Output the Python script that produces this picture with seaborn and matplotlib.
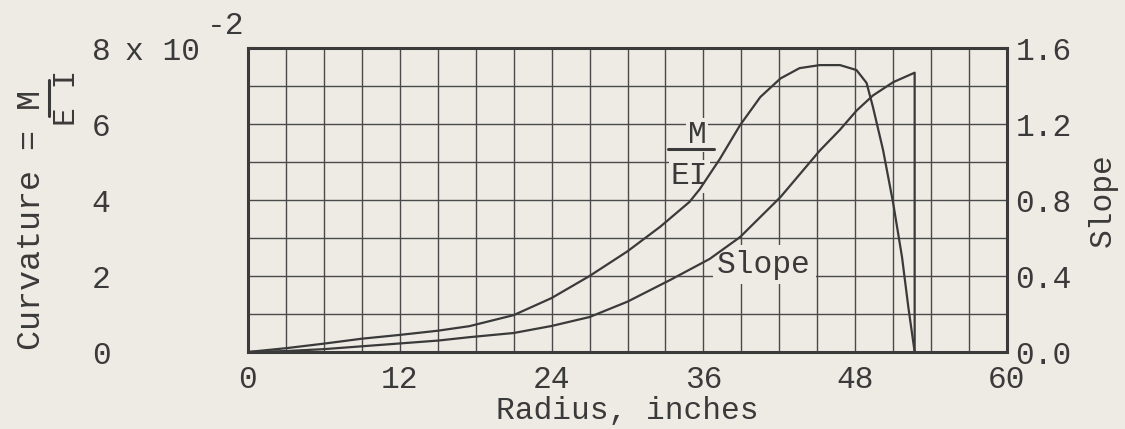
import pandas as pd
import matplotlib.pyplot as plt
import seaborn as sns
from matplotlib.lines import Line2D

# radius (inches) and curvature M/EI (x 10^-2)
radius_mei = [0, 3, 6, 9, 12, 15, 17.5, 21, 24, 27, 30, 32.6, 34.9, 35.7, 37.3, 38.9,
              40.5, 42.1, 43.6, 45.2, 46.8, 48.1, 48.9, 49.4, 50.2, 51.0, 51.7, 52.2, 52.7]
curvature = [0.0, 0.1, 0.22, 0.35, 0.45, 0.56, 0.68, 0.97, 1.42, 2.0, 2.65, 3.3, 3.95,
             4.28, 5.08, 5.97, 6.71, 7.2, 7.47, 7.55, 7.55, 7.42, 7.08, 6.45, 5.32,
             3.92, 2.5, 1.18, 0.0]

# radius (inches) and slope
radius_slope = [0, 3, 6, 9, 12, 15, 17.5, 21, 24, 27, 30, 33.4, 36.5, 38.9, 42.1, 45.2,
                46.8, 48.1, 49.4, 51.0, 52.7, 52.7]
slope = [0.0, 0.005, 0.015, 0.03, 0.045, 0.06, 0.078, 0.10, 0.137, 0.184, 0.265, 0.38,
         0.49, 0.605, 0.816, 1.06, 1.17, 1.27, 1.35, 1.42, 1.47, 0.0]

x_ticks = [0, 12, 24, 36, 48, 60]
left_ticks = [0, 2, 4, 6, 8]
right_ticks = [0.0, 0.4, 0.8, 1.2, 1.6]

paper = '#eeebe5'
ink = '#3a3a3a'
fs = 22.5

sns.set_theme(style='white')
plt.rcParams['font.family'] = ['Liberation Mono', 'DejaVu Sans Mono']
plt.rcParams['text.color'] = ink

df_mei = pd.DataFrame({'r': radius_mei, 'v': curvature})
df_slope = pd.DataFrame({'r': radius_slope, 's': slope})

W, H = 1125, 429
fig = plt.figure(figsize=(W / 100, H / 100), dpi=100, facecolor=paper)
ax = fig.add_axes([248 / W, 1 - 352 / H, (1007 - 248) / W, (352 - 48) / H])
ax.set_facecolor(paper)

sns.lineplot(data=df_mei, x='r', y='v', ax=ax, color=ink, lw=1.6,
             estimator=None, sort=False, zorder=4)

ax.set_xlim(0, 60)
ax.set_ylim(0, 8)
ax.set_xticks(x_ticks)
ax.set_xticks(range(0, 61, 3), minor=True)
ax.set_yticks(left_ticks)
ax.set_yticks(range(0, 9), minor=True)
ax.grid(True, which='both', color='#4a4a4a', lw=1.0)
ax.set_axisbelow(True)
ax.tick_params(which='both', length=0, labelsize=fs, colors=ink)
ax.tick_params(axis='y', pad=99)
ax.tick_params(axis='x', pad=9)
for s in ax.spines.values():
    s.set_color(ink)
    s.set_linewidth(2.2)
ax.set_xlabel('Radius, inches', fontsize=fs, color=ink, labelpad=1)
ax.set_ylabel('')

ax2 = ax.twinx()
sns.lineplot(data=df_slope, x='r', y='s', ax=ax2, color=ink, lw=1.6,
             estimator=None, sort=False, zorder=4)
ax2.set_ylim(0, 1.6)
ax2.set_yticks(right_ticks)
ax2.set_yticklabels([f'{t:.1f}' for t in right_ticks])
ax2.tick_params(length=0, labelsize=fs, colors=ink, pad=6)
ax2.set_ylabel('')
for s in ax2.spines.values():
    s.set_visible(False)

# curve labels (typed fraction M over EI)
box = dict(boxstyle='square,pad=0.05', fc=paper, ec='none')
ax.text(35.5, 5.71, 'M', fontsize=fs, ha='center', va='center', zorder=3, bbox=box)
ax.text(34.9, 4.62, 'EI', fontsize=fs, ha='center', va='center', zorder=3, bbox=box)
ax.plot([33.2, 36.8], [5.34, 5.34], color=ink, lw=2.2, zorder=3)
ax.text(40.8, 2.3, 'Slope', fontsize=fs, ha='center', va='center', zorder=3,
        bbox=dict(boxstyle='square,pad=0.15', fc=paper, ec='none'))

# axis titles and exponent
fig.text(125 / W, 1 - 52 / H, 'x 10', fontsize=fs, ha='left', va='center')
fig.text(207 / W, 1 - 26 / H, '-2', fontsize=fs, ha='left', va='center')
fig.text(32 / W, 1 - 220 / H, 'Curvature = M', fontsize=24, rotation=90,
         ha='center', va='center')
fig.add_artist(Line2D([49 / W, 49 / W], [1 - 80 / H, 1 - 116 / H], color=ink, lw=2.2))
fig.text(67 / W, 1 - 98 / H, 'E I', fontsize=fs, rotation=90, ha='center', va='center')
fig.text(1103 / W, 1 - 200 / H, 'Slope', fontsize=fs, rotation=90,
         ha='center', va='center')

fig.savefig('out.png', dpi=100, facecolor=paper)
